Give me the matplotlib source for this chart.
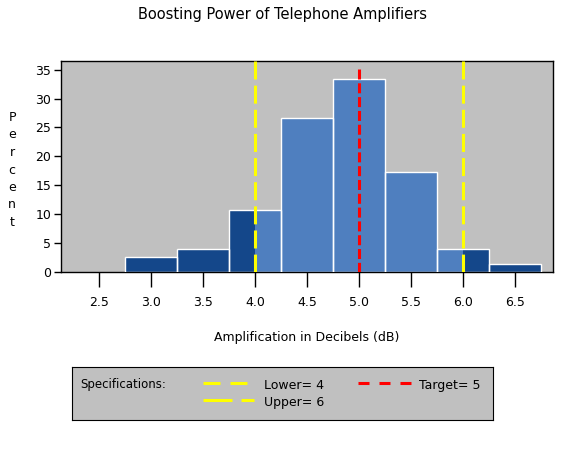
import numpy as np
import matplotlib.pyplot as plt
from matplotlib.lines import Line2D

# histogram data (percent of 75 amplifiers)
midpoints = [2.5, 3.0, 3.5, 4.0, 4.5, 5.0, 5.5, 6.0, 6.5]
percents = [0.0, 2.67, 4.0, 10.67, 26.67, 33.33, 17.33, 4.0, 1.33]
lower_spec = 4.0
upper_spec = 6.0
target = 5.0
xticks = [2.5, 3.0, 3.5, 4.0, 4.5, 5.0, 5.5, 6.0, 6.5]
yticks = [0, 5, 10, 15, 20, 25, 30, 35]

width = 0.5
gray = '#C0C0C0'
inside = '#4F7FBF'
outside = '#14478A'
font = 'DejaVu Sans'
plt.rcParams['font.family'] = font

fig = plt.figure(figsize=(5.65, 4.5), dpi=100)
ax = fig.add_axes([61 / 565, 1 - 272 / 450, 492 / 565, 211 / 450])
ax.set_facecolor(gray)

mids = np.array(midpoints)
pcts = np.array(percents)
# light fill for whole bars, then dark over parts outside specs
ax.bar(mids, pcts, width=width, color=inside, linewidth=0, zorder=2)
lefts = mids - width / 2
rights = mids + width / 2
lo_w = np.clip(np.minimum(rights, lower_spec) - lefts, 0, width)
ax.bar(lefts, pcts, width=lo_w, align='edge', color=outside, linewidth=0, zorder=2)
hi_start = np.maximum(lefts, upper_spec)
hi_w = np.clip(rights - hi_start, 0, width)
ax.bar(hi_start, pcts, width=hi_w, align='edge', color=outside, linewidth=0, zorder=2)
ax.bar(mids[pcts > 0], pcts[pcts > 0], width=width, fill=False, edgecolor='white',
       linewidth=1, zorder=3)

ymax = 36.5
lw = 2.2
# reference lines drawn from the top down
ax.plot([lower_spec, lower_spec], [ymax, 0], color='yellow', lw=lw, dashes=(5.9, 2.0), zorder=4)
ax.plot([upper_spec, upper_spec], [ymax, 0], color='yellow', lw=lw, dashes=(5.9, 2.0), zorder=4)
ax.plot([target, target], [35.2, 0], color='red', lw=lw, dashes=(3.27, 1.25), zorder=4)

ax.set_xlim(2.135, 6.865)
ax.set_ylim(0, ymax)
ax.set_xticks(xticks)
ax.set_xticklabels([f'{t:.1f}' for t in xticks])
ax.set_yticks(yticks)
ax.tick_params(axis='x', direction='out', length=11, width=1, pad=6, labelsize=9)
ax.tick_params(axis='y', direction='out', length=5, width=1, pad=2, labelsize=9)
for s in ax.spines.values():
    s.set_linewidth(1)

fig.text(283 / 565, 1 - 15 / 450, 'Boosting Power of Telephone Amplifiers',
         ha='center', va='center', fontsize=10.5)
fig.text(307 / 565, 1 - 338 / 450, 'Amplification in Decibels (dB)',
         ha='center', va='center', fontsize=9)
fig.text(12 / 565, 1 - 170 / 450, '\n'.join('Percent'), ha='center', va='center',
         fontsize=9, linespacing=1.45)

# specification legend box
box = fig.add_axes([72 / 565, 1 - 420 / 450, 421 / 565, 53 / 450])
box.set_facecolor(gray)
box.set_xticks([])
box.set_yticks([])
box.set_xlim(72, 493)
box.set_ylim(420, 367)
box.text(80, 385, 'Specifications:', va='center', fontsize=8.5)
box.add_line(Line2D([203, 247], [383, 383], color='yellow', lw=lw, dashes=(5.56, 3.27)))
box.add_line(Line2D([203, 255], [400, 400], color='yellow', lw=lw,
                    dashes=(9.5, 2.95, 4.25, 2.95)))
box.add_line(Line2D([358, 411], [383, 383], color='red', lw=lw, dashes=(3.6, 3.27)))
box.text(264, 386, 'Lower= 4', va='center', fontsize=9)
box.text(264, 403, 'Upper= 6', va='center', fontsize=9)
box.text(419, 386, 'Target= 5', va='center', fontsize=9)

fig.savefig('out.png', dpi=100)
